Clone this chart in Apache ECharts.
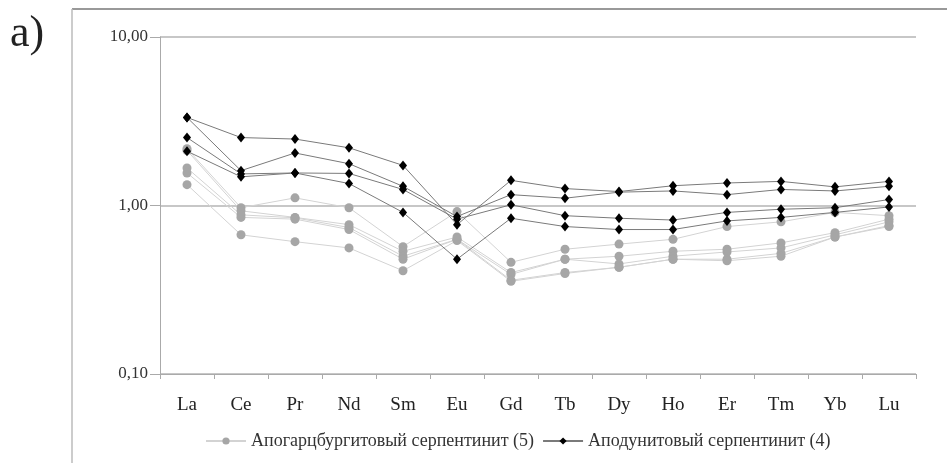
<!DOCTYPE html>
<html><head><meta charset="utf-8">
<script src="https://cdn.jsdelivr.net/npm/echarts@6/dist/echarts.min.js"></script>
<style>html,body{margin:0;padding:0;background:#fff}#c{width:947px;height:463px}</style>
</head><body><div id="c"></div>
<script>
const categories = ['La','Ce','Pr','Nd','Sm','Eu','Gd','Tb','Dy','Ho','Er','Tm','Yb','Lu'];
const yTickLabels = {0.1:'0,10', 1:'1,00', 10:'10,00'};
const grayName = 'Апогарцбургитовый серпентинит (5)';
const blackName = 'Аподунитовый серпентинит (4)';

const gray1 = [2.17, 0.97, 1.11, 0.97, 0.57, 0.92, 0.46, 0.55, 0.59, 0.63, 0.75, 0.80, 0.91, 0.87];
const gray2 = [2.12, 0.93, 0.85, 0.77, 0.535, 0.65, 0.40, 0.48, 0.50, 0.535, 0.55, 0.60, 0.69, 0.83];
const gray3 = [1.67, 0.88, 0.845, 0.74, 0.50, 0.63, 0.39, 0.48, 0.45, 0.50, 0.53, 0.56, 0.67, 0.80];
const gray4 = [1.56, 0.85, 0.83, 0.72, 0.48, 0.63, 0.36, 0.40, 0.43, 0.48, 0.48, 0.52, 0.65, 0.76];
const gray5 = [1.33, 0.67, 0.61, 0.56, 0.41, 0.62, 0.355, 0.395, 0.43, 0.48, 0.47, 0.50, 0.65, 0.75];

const black1 = [3.33, 2.53, 2.48, 2.20, 1.73, 0.77, 1.41, 1.26, 1.21, 1.31, 1.36, 1.39, 1.29, 1.39];
const black2 = [3.33, 1.61, 2.05, 1.77, 1.30, 0.86, 1.16, 1.105, 1.20, 1.22, 1.16, 1.245, 1.22, 1.30];
const black3 = [2.53, 1.54, 1.56, 1.55, 1.245, 0.83, 1.01, 0.87, 0.84, 0.82, 0.91, 0.95, 0.97, 1.085];
const black4 = [2.10, 1.48, 1.56, 1.35, 0.91, 0.48, 0.84, 0.75, 0.72, 0.72, 0.81, 0.85, 0.91, 0.98];

const grays = [gray1, gray2, gray3, gray4, gray5];
const blacks = [black1, black2, black3, black4];

const serif = '"Liberation Serif", "DejaVu Serif", serif';
const series = [];
grays.forEach(d => series.push({
  name: grayName, type: 'line', data: d, symbol: 'circle', symbolSize: 9,
  itemStyle: {color: '#a6a6a6'}, lineStyle: {color: '#d3d3d3', width: 1}, z: 2
}));
blacks.forEach(d => series.push({
  name: blackName, type: 'line', data: d, symbol: 'diamond', symbolSize: [8, 10],
  itemStyle: {color: '#000'}, lineStyle: {color: '#7a7a7a', width: 1}, z: 3
}));

const chart = echarts.init(document.getElementById('c'), null, {renderer: 'canvas'});
chart.setOption({
  animation: false,
  textStyle: {fontFamily: serif},
  grid: {left: 160, right: 31, top: 37, bottom: 89},
  legend: {
    bottom: 8, left: 200, itemWidth: 40, itemHeight: 9, itemGap: 8,
    textStyle: {fontFamily: serif, fontSize: 18, color: '#333'},
    data: [grayName, blackName]
  },
  xAxis: {
    type: 'category', data: categories, boundaryGap: true,
    axisLine: {lineStyle: {color: '#aaa'}},
    axisTick: {show: true, length: 5, lineStyle: {color: '#aaa'}},
    axisLabel: {fontFamily: serif, fontSize: 19, color: '#222', margin: 22}
  },
  yAxis: {
    type: 'log', min: 0.1, max: 10, logBase: 10,
    axisLine: {show: true, lineStyle: {color: '#aaa'}},
    axisTick: {show: true, length: 10, lineStyle: {color: '#aaa'}},
    splitLine: {show: true, lineStyle: {color: '#b5b5b5', width: 1.5}},
    axisLabel: {fontFamily: serif, fontSize: 17, color: '#333', margin: 12,
      formatter: v => { const k = Math.round(v*100)/100; return yTickLabels[k] || ''; }}
  },
  graphic: [
    {type: 'line', shape: {x1: 72, y1: 9, x2: 947, y2: 9}, style: {stroke: '#777', lineWidth: 1.5}},
    {type: 'line', shape: {x1: 72, y1: 9, x2: 72, y2: 463}, style: {stroke: '#bbb', lineWidth: 1.5}},
    {type: 'text', left: 10, top: 12, style: {text: 'a)', font: '44px "Liberation Serif", serif', fill: '#222'}}
  ],
  series: series
});
</script></body></html>
